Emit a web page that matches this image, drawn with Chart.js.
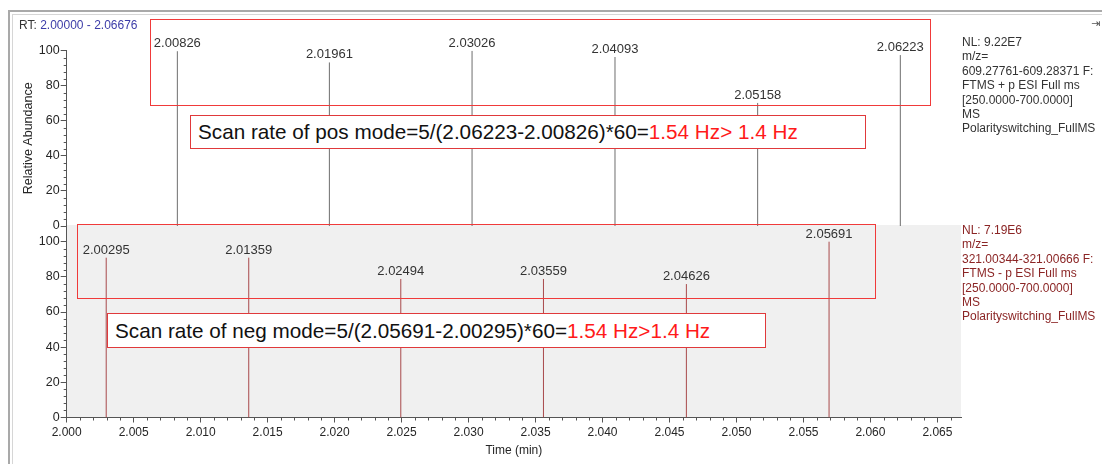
<!DOCTYPE html>
<html>
<head>
<meta charset="utf-8">
<script src="https://cdn.jsdelivr.net/npm/chart.js@4.4.0/dist/chart.umd.min.js"></script>
<style>
html, body { margin: 0; padding: 0; background: #fff; }
#wrap { position: relative; width: 1102px; height: 464px; overflow: hidden; font-family: "Liberation Sans", Arial, sans-serif; }
canvas { position: absolute; left: 0; top: 0; }
.frame { position: absolute; left: 8px; top: 10px; right: 0; bottom: 0; border-left: 2px solid #a9a9a9; border-top: 2px solid #a9a9a9; }
.frame2 { position: absolute; left: 12px; top: 14px; right: 0; bottom: 0; border-left: 1px solid #d6d6d6; border-top: 1px solid #d6d6d6; }
.rt { position: absolute; left: 19px; top: 18px; font-size: 12px; color: #333; }
.rt span { color: #3c3ca8; }
.info { position: absolute; left: 962px; font-size: 12px; line-height: 14.4px; white-space: nowrap; }
#infoPos { top: 35px; color: #333; }
#infoNeg { top: 223px; color: #8b2525; }
.box { position: absolute; box-sizing: border-box; border: 1.5px solid #f03a3a; }
.note { position: absolute; box-sizing: border-box; border: 1.5px solid #e0393b; background: #fff; font-size: 20.7px; color: #111; padding-left: 7px; display: flex; align-items: center; white-space: nowrap; }
.note span { color: #ff1a1a; }
.icon { position: absolute; left: 1091px; top: 17px; font-size: 11px; color: #555; font-family: "DejaVu Sans", sans-serif; }
</style>
</head>
<body>
<div id="wrap">
  <div class="frame"></div>
  <div class="frame2"></div>
  <canvas id="neg" width="1102" height="464"></canvas>
  <canvas id="pos" width="1102" height="464"></canvas>
  <div class="rt">RT: <span>2.00000 - 2.06676</span></div>
  <div class="icon">⇥</div>
  <div class="info" id="infoPos">NL: 9.22E7<br>m/z=<br>609.27761-609.28371 F:<br>FTMS + p ESI Full ms<br>[250.0000-700.0000]<br>MS<br>Polarityswitching_FullMS</div>
  <div class="info" id="infoNeg">NL: 7.19E6<br>m/z=<br>321.00344-321.00666 F:<br>FTMS - p ESI Full ms<br>[250.0000-700.0000]<br>MS<br>Polarityswitching_FullMS</div>
  <div class="box" style="left:150px; top:19px; width:781px; height:87px;"></div>
  <div class="note" style="left:190px; top:115px; width:676px; height:34px;">Scan rate of pos mode=5/(2.06223-2.00826)*60=<span>1.54 Hz&gt; 1.4 Hz</span></div>
  <div class="box" style="left:77px; top:224px; width:799px; height:75px;"></div>
  <div class="note" style="left:107px; top:313px; width:659px; height:35px;">Scan rate of neg mode=5/(2.05691-2.00295)*60=<span>1.54 Hz&gt;1.4 Hz</span></div>
</div>
<script>
// positive mode scans (top trace)
const posRT = [2.00826, 2.01961, 2.03026, 2.04093, 2.05158, 2.06223];
const posAbund = [99.7, 93.3, 100, 96.4, 70.2, 97.5];

// negative mode scans (bottom trace)
const negRT = [2.00295, 2.01359, 2.02494, 2.03559, 2.04626, 2.05691];
const negAbund = [90.9, 90.9, 78.8, 78.8, 75.9, 100];

// axes
const timeMin = 2.00000;
const timeMax = 2.06676;
const timeTicks = [2.000, 2.005, 2.010, 2.015, 2.020, 2.025, 2.030, 2.035, 2.040, 2.045, 2.050, 2.055, 2.060, 2.065];
const abundTicks = [0, 20, 40, 60, 80, 100];

Chart.defaults.font.family = '"Liberation Sans", Arial, sans-serif';
Chart.defaults.font.size = 12;
Chart.defaults.color = '#262626';

// each scan is a stick: baseline -> height, then a gap
function sticks(rt, ab) {
    var pts = [];
    for (var i = 0; i < rt.length; i++) {
        pts.push({x: rt[i], y: 0}, {x: rt[i], y: ab[i]}, {x: rt[i], y: null});
    }
    return pts;
}

const panelBg = {
    id: 'panelBg',
    beforeDraw(chart, args, opts) {
        if (!opts.color) return;
        const ca = chart.chartArea;
        chart.ctx.save();
        chart.ctx.fillStyle = opts.color;
        chart.ctx.fillRect(ca.left, ca.top, ca.right - ca.left, ca.bottom - ca.top);
        chart.ctx.restore();
    }
};

const minorTicks = {
    id: 'minorTicks',
    afterDraw(chart, args, opts) {
        const ctx = chart.ctx, ca = chart.chartArea;
        const y = chart.scales.y, x = chart.scales.x;
        ctx.save();
        ctx.strokeStyle = '#555';
        ctx.lineWidth = 1;
        ctx.beginPath();
        for (var v = 0; v <= 100; v += 4) {
            if (v % 20 === 0) continue;
            var py = Math.round(y.getPixelForValue(v)) + 0.5;
            ctx.moveTo(ca.left - 3, py);
            ctx.lineTo(ca.left, py);
        }
        if (opts.x) {
            for (var i = 0; i <= 66; i++) {
                if (i % 5 === 0) continue;
                var px = Math.round(x.getPixelForValue(timeMin + i / 1000)) + 0.5;
                ctx.moveTo(px, ca.bottom);
                ctx.lineTo(px, ca.bottom + 3);
            }
        }
        ctx.stroke();
        ctx.restore();
    }
};

const stickLabels = {
    id: 'stickLabels',
    afterDatasetsDraw(chart, args, opts) {
        const ctx = chart.ctx, x = chart.scales.x, y = chart.scales.y;
        ctx.save();
        ctx.font = '13px "Liberation Sans", Arial, sans-serif';
        ctx.fillStyle = '#333';
        ctx.textAlign = 'center';
        ctx.textBaseline = 'alphabetic';
        opts.rt.forEach(function (t, i) {
            ctx.fillText(t.toFixed(5), x.getPixelForValue(t), y.getPixelForValue(opts.ab[i]) - 4);
        });
        ctx.restore();
    }
};

function makePanel(id, rt, ab, o) {
    return new Chart(document.getElementById(id), {
        type: 'line',
        data: {
            datasets: [{
                data: sticks(rt, ab),
                borderColor: o.color,
                borderWidth: 1,
                pointRadius: 0,
                spanGaps: false,
                tension: 0
            }]
        },
        options: {
            responsive: false,
            animation: false,
            layout: {padding: o.padding},
            plugins: {
                legend: {display: false},
                tooltip: {enabled: false},
                panelBg: {color: o.bg},
                minorTicks: {x: o.showX},
                stickLabels: {rt: rt, ab: ab}
            },
            scales: {
                x: {
                    type: 'linear',
                    display: o.showX,
                    min: timeMin,
                    max: timeMax,
                    afterBuildTicks: function (s) { s.ticks = timeTicks.map(function (v) { return {value: v}; }); },
                    afterFit: function (s) { if (o.showX) s.height = 464 - 417.5; },
                    ticks: {
                        autoSkip: false,
                        maxRotation: 0,
                        padding: 3,
                        callback: function (v) { return Number(v).toFixed(3); }
                    },
                    grid: {drawOnChartArea: false, tickLength: 5, color: '#555'},
                    border: {color: '#555'},
                    title: {display: true, text: 'Time (min)', padding: {top: 1, bottom: 6}}
                },
                y: {
                    min: 0,
                    max: o.ymax,
                    afterBuildTicks: function (s) { s.ticks = abundTicks.map(function (v) { return {value: v}; }); },
                    afterFit: function (s) { s.width = 66.7; },
                    ticks: {padding: 1, font: {size: 12.5}},
                    grid: {drawOnChartArea: false, tickLength: 6, color: '#555'},
                    border: {color: '#555'},
                    title: {display: o.yTitle, text: 'Relative Abundance', font: {size: 12.5}, padding: {top: 21, bottom: 0}}
                }
            }
        },
        plugins: [panelBg, minorTicks, stickLabels]
    });
}

makePanel('neg', negRT, negAbund, {
    color: '#a8494b', bg: '#f0f0f0', showX: true, yTitle: false, ymax: 109.5,
    padding: {top: 225, bottom: 0, left: 0, right: 1102 - 961}
});
makePanel('pos', posRT, posAbund, {
    color: '#6e6e6e', bg: null, showX: false, yTitle: true, ymax: 100,
    padding: {top: 50.7, bottom: 464 - 226, left: 0, right: 1102 - 961}
});
</script>
</body>
</html>
